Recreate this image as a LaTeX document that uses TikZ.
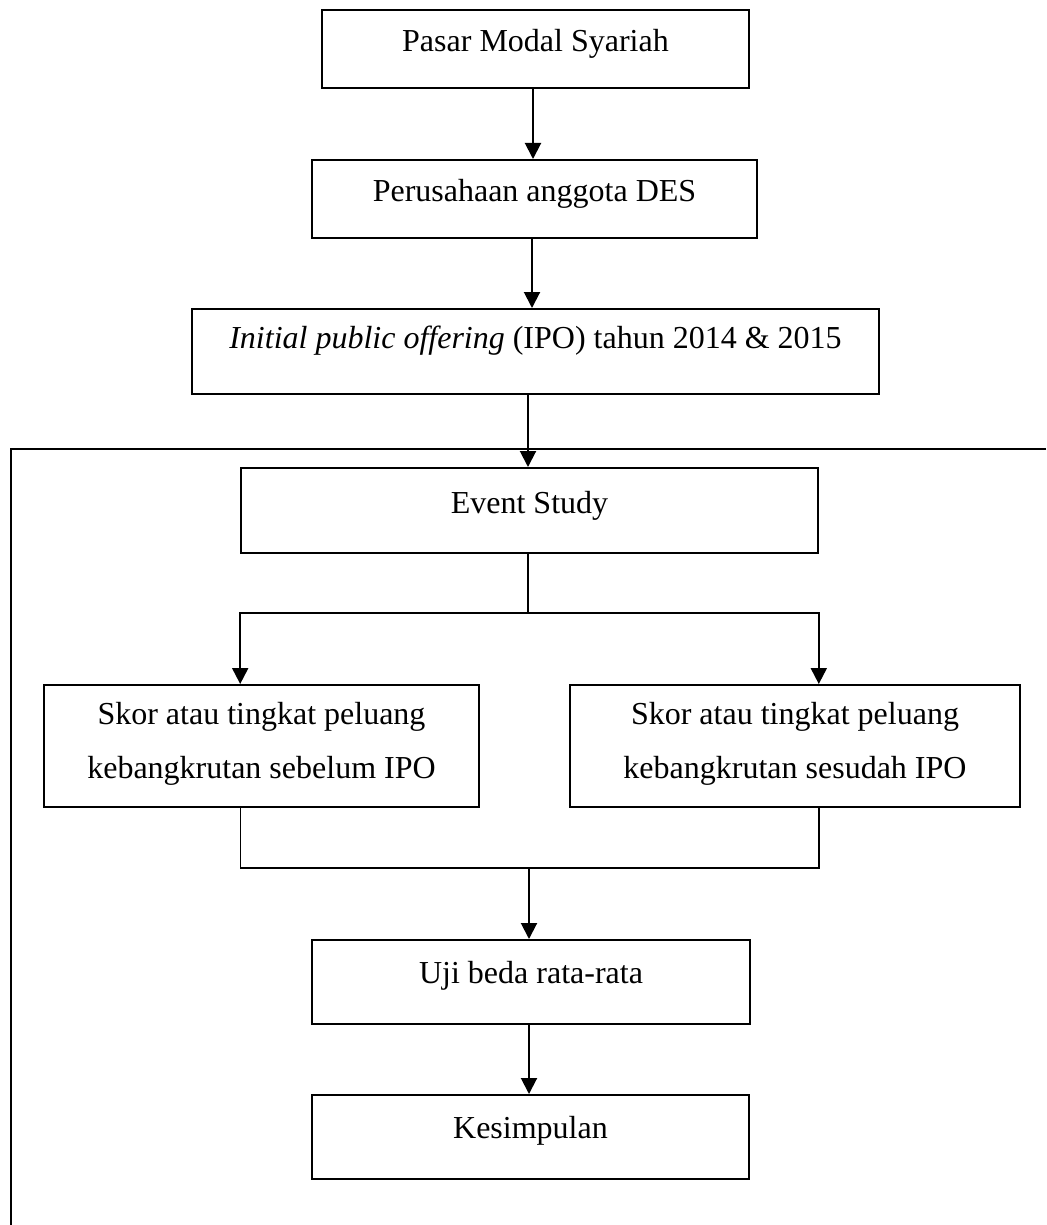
\documentclass[tikz,border=0pt]{standalone}
\usepackage{fontspec}
\setmainfont{Liberation Serif}
\usetikzlibrary{arrows.meta}

\tikzset{
    box/.style={draw, line width=1.6pt, inner sep=0pt, anchor=north, align=center,
        font=\fontsize{32}{54}\selectfont, text height=42pt},
    flow/.style={line width=2pt, -{Triangle[length=16pt,width=16pt]}},
    link/.style={line width=1.4pt}
}

\begin{document}
\begin{tikzpicture}[x=1pt, y=-1pt]
        \useasboundingbox (0,0) rectangle (1046,1225);

        % upper chain
        \node[box, minimum width=427pt, text depth=36pt] (pasar) at (535.5,9) {Pasar Modal Syariah};
        \node[box, minimum width=445pt, text depth=36pt] (perusahaan) at (534.5,159) {Perusahaan anggota DES};
        \node[box, minimum width=687pt, text height=40pt, text depth=45pt] (ipo) at (535.5,308) {\textit{Initial public offering} (IPO) tahun 2014 \& 2015};

        % frame round the study part
        \draw[line width=1.8pt] (1046,449) -- (10.7,449) -- (10.7,1225);

        \node[box, minimum width=577pt, text height=46pt, text depth=39pt] (event) at (529.5,467) {Event Study};
        \node[box, minimum width=435pt, text height=94pt, text depth=28pt] (sebelum) at (261.5,684) {Skor atau tingkat peluang\\kebangkrutan sebelum IPO};
        \node[box, minimum width=450pt, text height=94pt, text depth=28pt] (sesudah) at (795,684) {Skor atau tingkat peluang\\kebangkrutan sesudah IPO};
        \node[box, minimum width=438pt, text height=44pt, text depth=40pt] (uji) at (531,939) {Uji beda rata-rata};
        \node[box, minimum width=437pt, text height=44pt, text depth=40pt] (simpulan) at (530.5,1094) {Kesimpulan};

        \coordinate (fork) at (528,613);
        \coordinate (join) at (529,868);

        \draw[flow] (pasar.south -| 533,0) -- (perusahaan.north -| 533,0);
        \draw[flow] (perusahaan.south -| 532,0) -- (ipo.north -| 532,0);
        \draw[flow] (ipo.south -| fork) -- (event.north -| fork);

        % split to both scores
        \draw[link] (event.south -| fork) -- (fork);
        \draw[flow] (fork) -| (event.south west |- sebelum.north);
        \draw[flow] (fork) -| (event.south east |- sesudah.north);

        % join again
        \draw[link] (event.south west |- sebelum.south) |- (join) -| (event.south east |- sesudah.south);
        \draw[flow] (join) -- (join |- uji.north);
        \draw[flow] (uji.south -| join) -- (simpulan.north -| join);
    \end{tikzpicture}
\end{document}
